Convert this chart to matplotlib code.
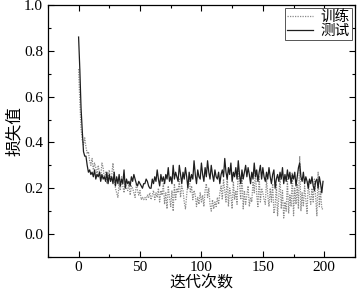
import matplotlib
matplotlib.use("Agg")
import matplotlib.pyplot as plt
import numpy as np
from matplotlib.ticker import MultipleLocator

# loss per iteration
test_loss = [
    0.86, 0.72, 0.55, 0.45, 0.36, 0.34, 0.34, 0.30, 0.27, 0.28,
    0.26, 0.27, 0.25, 0.28, 0.24, 0.26, 0.25, 0.27, 0.23, 0.26,
    0.24, 0.25, 0.23, 0.27, 0.22, 0.26, 0.23, 0.25, 0.22, 0.27,
    0.21, 0.25, 0.22, 0.26, 0.21, 0.24, 0.22, 0.28, 0.20, 0.24,
    0.22, 0.23, 0.21, 0.25, 0.23, 0.26, 0.24, 0.22, 0.21, 0.23,
    0.22, 0.21, 0.20, 0.22, 0.22, 0.24, 0.23, 0.21, 0.20, 0.20,
    0.24, 0.22, 0.25, 0.23, 0.28, 0.24, 0.21, 0.26, 0.23, 0.25,
    0.22, 0.26, 0.24, 0.29, 0.23, 0.25, 0.22, 0.30, 0.24, 0.27,
    0.25, 0.23, 0.30, 0.26, 0.22, 0.27, 0.24, 0.29, 0.25, 0.20,
    0.27, 0.23, 0.26, 0.24, 0.32, 0.26, 0.22, 0.28, 0.25, 0.24,
    0.31, 0.26, 0.23, 0.29, 0.25, 0.32, 0.27, 0.24, 0.30, 0.26,
    0.23, 0.28, 0.25, 0.24, 0.27, 0.22, 0.26, 0.28, 0.25, 0.33,
    0.27, 0.24, 0.29, 0.26, 0.31, 0.23, 0.27, 0.25, 0.29, 0.24,
    0.32, 0.26, 0.22, 0.28, 0.24, 0.27, 0.30, 0.25, 0.29, 0.26,
    0.22, 0.27, 0.24, 0.31, 0.25, 0.28, 0.23, 0.27, 0.30, 0.24,
    0.29, 0.25, 0.23, 0.27, 0.24, 0.29, 0.25, 0.22, 0.26, 0.28,
    0.20, 0.24, 0.26, 0.23, 0.27, 0.24, 0.29, 0.22, 0.26, 0.23,
    0.28, 0.24, 0.27, 0.22, 0.26, 0.24, 0.27, 0.21, 0.25, 0.29,
    0.31, 0.25, 0.23, 0.27, 0.22, 0.25, 0.23, 0.20, 0.24, 0.22,
    0.25, 0.21, 0.19, 0.23, 0.24, 0.20, 0.25, 0.22, 0.18, 0.23,
]
train_loss = [
    0.72, 0.58, 0.46, 0.41, 0.39, 0.42, 0.38, 0.35, 0.36, 0.32,
    0.30, 0.33, 0.28, 0.31, 0.29, 0.26, 0.30, 0.27, 0.25, 0.31,
    0.29, 0.24, 0.27, 0.22, 0.25, 0.28, 0.23, 0.26, 0.31, 0.24,
    0.20, 0.18, 0.16, 0.22, 0.19, 0.25, 0.21, 0.18, 0.23, 0.20,
    0.19, 0.22, 0.17, 0.21, 0.20, 0.18, 0.16, 0.22, 0.19, 0.17,
    0.19, 0.15, 0.16, 0.15, 0.16, 0.15, 0.17, 0.16, 0.18, 0.15,
    0.17, 0.19, 0.15, 0.18, 0.16, 0.20, 0.14, 0.19, 0.17, 0.22,
    0.13, 0.18, 0.11, 0.21, 0.16, 0.12, 0.19, 0.10, 0.22, 0.15,
    0.20, 0.18, 0.24, 0.16, 0.21, 0.19, 0.14, 0.11, 0.17, 0.22,
    0.25, 0.18, 0.21, 0.15, 0.19, 0.17, 0.12, 0.16, 0.13, 0.18,
    0.14, 0.17, 0.12, 0.19, 0.22, 0.16, 0.20, 0.13, 0.10, 0.15,
    0.11, 0.14, 0.12, 0.16, 0.13, 0.18, 0.21, 0.15, 0.24, 0.19,
    0.14, 0.26, 0.12, 0.20, 0.17, 0.11, 0.23, 0.15, 0.19, 0.13,
    0.29, 0.22, 0.15, 0.27, 0.11, 0.19, 0.13, 0.17, 0.21, 0.12,
    0.16, 0.14, 0.23, 0.18, 0.28, 0.17, 0.12, 0.25, 0.14, 0.20,
    0.18, 0.15, 0.13, 0.24, 0.17, 0.12, 0.20, 0.14, 0.22, 0.09,
    0.12, 0.22, 0.08, 0.16, 0.25, 0.11, 0.19, 0.07, 0.14, 0.10,
    0.24, 0.09, 0.17, 0.12, 0.27, 0.08, 0.20, 0.13, 0.22, 0.11,
    0.34, 0.10, 0.18, 0.12, 0.21, 0.15, 0.09, 0.23, 0.17, 0.13,
    0.20, 0.14, 0.24, 0.16, 0.08, 0.27, 0.12, 0.19, 0.11, 0.11,
]
iterations = np.arange(len(test_loss))

serif = ['Liberation Serif', 'Noto Sans CJK SC']
cjk = ['Noto Sans CJK SC', 'Liberation Serif']
plt.rcParams['font.family'] = serif

fig = plt.figure(figsize=(3.6, 2.92), dpi=100)
ax = fig.add_axes([0.133, 0.12, 0.853, 0.863])

ax.plot(iterations, train_loss, color='#8a8a8a', lw=0.9, ls=(0, (1, 1)), label='训练')
ax.plot(iterations, test_loss, color='#1e1e1e', lw=0.9, label='测试')

ax.set_xlim(-25, 225)
ax.set_ylim(-0.1, 1.0)
ax.set_xticks([0, 50, 100, 150, 200])
ax.set_yticks([0.0, 0.2, 0.4, 0.6, 0.8, 1.0])
ax.set_yticklabels(['0.0', '0.2', '0.4', '0.6', '0.8', '1.0'])
ax.xaxis.set_minor_locator(MultipleLocator(25))
ax.yaxis.set_minor_locator(MultipleLocator(0.1))
ax.tick_params(which='both', direction='in', top=True, right=True, labelsize=11, width=0.8)
ax.tick_params(axis='x', pad=3)
ax.tick_params(which='major', length=4)
ax.tick_params(which='minor', length=2)
for s in ax.spines.values():
    s.set_linewidth(0.9)

ax.set_xlabel('迭代次数', family=cjk, fontsize=11.5, labelpad=0)
ax.set_ylabel('损失值', family=cjk, fontsize=12, labelpad=1)

leg = ax.legend(loc='upper right', prop={'family': cjk, 'size': 10.5}, fancybox=False,
                edgecolor='#555555', framealpha=1, borderpad=0.15, labelspacing=0.0,
                handlelength=1.8, handletextpad=0.5, borderaxespad=0.2)
leg.get_frame().set_linewidth(0.7)

fig.savefig('out.png', dpi=100)
